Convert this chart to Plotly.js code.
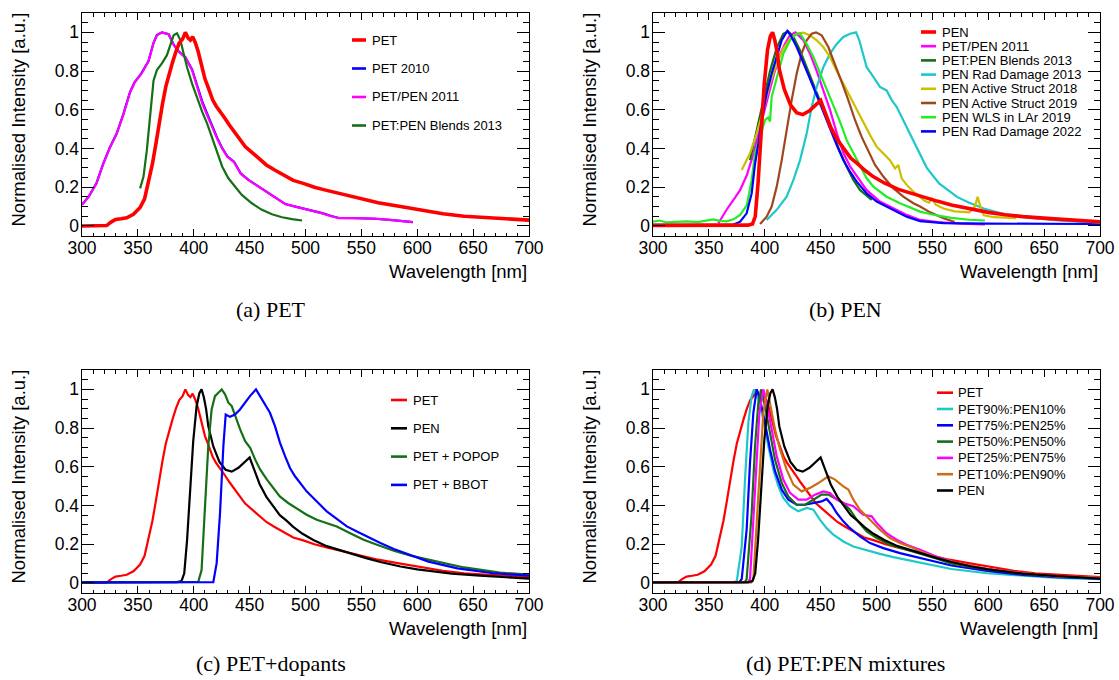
<!DOCTYPE html>
<html><head><meta charset="utf-8">
<script src="https://cdn.plot.ly/plotly-3.0.1.min.js"></script>
<style>html,body{margin:0;padding:0;background:#fff;} #chart{width:1119px;height:680px;}</style>
</head><body><div id="chart"></div>
<script>
// ---------------- DATA ----------------
const xTicks = [300, 350, 400, 450, 500, 550, 600, 650, 700];
const yTicks = [0, 0.2, 0.4, 0.6, 0.8, 1];
const yTickText = ['0', '0.2', '0.4', '0.6', '0.8', '1'];

const petWl  = [300,310,322,326,330,335,340,346,352,356,360,363,366,369,372,375,378,381,384,387,390,392.5,395,397,399,401.5,404,407,410,413,417,420,424,428,432,436,441,446,452,458,465,472,480,489,498,508,518,528,540,553,565,585,604,623,642,668,700];
const petInt = [0,0,0.002,0.02,0.033,0.037,0.042,0.06,0.095,0.14,0.24,0.32,0.42,0.53,0.63,0.72,0.79,0.845,0.9,0.945,0.965,1.0,0.97,0.96,0.978,0.945,0.9,0.83,0.76,0.715,0.65,0.62,0.59,0.555,0.52,0.49,0.45,0.41,0.38,0.35,0.315,0.29,0.265,0.235,0.22,0.2,0.185,0.172,0.155,0.138,0.12,0.1,0.08,0.063,0.05,0.04,0.03];

const pet2010Wl  = [300,306,313,319,325,331,337,343,347,353,359.5,364,367,371.5,377.5,382,386.5,392.5,398.5,403,407.5,412,416.5,421,425.5,430,436,442,449,458,467,476,482,491,503,515,523,530,545,562,578,596];
const pet2010Int = [0.11,0.152,0.222,0.322,0.407,0.477,0.578,0.692,0.742,0.787,0.852,0.946,0.986,1.0,0.99,0.937,0.902,0.872,0.808,0.728,0.645,0.58,0.515,0.455,0.402,0.36,0.332,0.272,0.238,0.204,0.169,0.135,0.113,0.1,0.084,0.066,0.051,0.041,0.04,0.037,0.03,0.02];

const petpenA2011Wl  = [300,306,313,319,325,331,337,343,347,353,359.5,364,367,371.5,377.5,382,386.5,392.5,398.5,403,407.5,412,416.5,421,425.5,430,436,442,449,458,467,476,482,491,503,515,523,530,545,562,578,596];
const petpenA2011Int = [0.108,0.151,0.22,0.32,0.405,0.475,0.575,0.69,0.74,0.785,0.85,0.945,0.985,1.0,0.99,0.935,0.9,0.87,0.805,0.72,0.635,0.572,0.51,0.45,0.4,0.357,0.33,0.27,0.237,0.203,0.168,0.134,0.112,0.1,0.083,0.065,0.05,0.04,0.04,0.038,0.03,0.02];

const blendsA2013Wl  = [352,355,358,361,364,367,371.5,376,379,382,385,388,391,394,398.5,403,407.5,412,416.5,421,425.5,431,437,443,452,461,470,479,488,497];
const blendsA2013Int = [0.194,0.254,0.39,0.58,0.75,0.805,0.84,0.882,0.933,0.985,0.995,0.96,0.89,0.82,0.735,0.658,0.59,0.529,0.452,0.375,0.306,0.246,0.203,0.16,0.117,0.083,0.06,0.045,0.035,0.028];

const penWl  = [300,330,360,385,389,391.5,394,396.5,399.5,402.5,405,407,409,411,413,417.5,423,428.5,434,440,446,450,453.5,459,465,471,477,483,489,497,507,519,531,543,555,567,585,600,615,631,656,679,700];
const penInt = [0.003,0.003,0.003,0.004,0.01,0.05,0.22,0.45,0.73,0.91,0.98,1.0,0.96,0.9,0.81,0.705,0.625,0.585,0.575,0.595,0.628,0.648,0.594,0.51,0.445,0.395,0.35,0.322,0.29,0.255,0.222,0.19,0.168,0.145,0.127,0.108,0.085,0.07,0.058,0.048,0.038,0.028,0.022];

const petpenB2011Wl  = [358.5,362,366,372,378,384,390,396,402,408,414,418,422.5,427.5,434.5,440.5,446.5,452.5,458.5,464.5,470.5,476.5,482.5,491,503,515,527,539,555,575,597];
const petpenB2011Int = [0.014,0.05,0.085,0.134,0.186,0.263,0.375,0.512,0.65,0.78,0.89,0.94,0.985,1.0,0.96,0.89,0.8,0.7,0.598,0.478,0.375,0.306,0.255,0.186,0.126,0.091,0.057,0.031,0.02,0.012,0.008];

const blendsB2013Wl  = [386.8,392.8,398.7,404.7,410.7,416.6,421,425.6,431.6,437.5,443.5,449.5,455.4,461.4,467.4,473.3,479.3,485.2,495.7];
const blendsB2013Int = [0.34,0.495,0.65,0.8,0.92,0.993,1.005,0.976,0.907,0.82,0.735,0.65,0.564,0.47,0.383,0.306,0.237,0.186,0.134];

const radDam2013Wl  = [401.7,410.7,419.6,425.6,431.6,437.5,442,446.5,452.4,458.4,464.4,470.3,476.3,481.7,484.6,488.2,491.2,497.2,503.1,509,513.6,518,524,530,539,545,556,572,583,596,615,640,660,690,700];
const radDam2013Int = [0.031,0.083,0.151,0.237,0.34,0.478,0.615,0.718,0.82,0.89,0.94,0.976,0.993,1.0,0.959,0.89,0.82,0.77,0.718,0.7,0.65,0.615,0.546,0.47,0.375,0.3,0.22,0.15,0.12,0.09,0.06,0.04,0.03,0.02,0.015];

const active2018Wl  = [379.4,386.8,392.8,398.7,404.7,410.7,416.6,422.6,428.6,434.5,440.5,446.5,452.4,458.4,464.4,470.3,476.3,482.3,488.2,494.2,500.2,506.1,512,516.6,519.5,522.5,527,533,539,543,547,549.5,553,560,570,583,588,590.5,593,596,605,625];
const active2018Int = [0.289,0.375,0.478,0.598,0.735,0.838,0.916,0.967,0.993,0.998,0.985,0.959,0.924,0.873,0.8,0.735,0.667,0.598,0.53,0.47,0.409,0.375,0.34,0.297,0.315,0.246,0.212,0.177,0.151,0.13,0.12,0.142,0.11,0.09,0.075,0.07,0.1,0.15,0.1,0.055,0.045,0.04];

const active2019Wl  = [395.8,401.7,406.2,410.7,415.2,419.6,424.1,428.6,433,437.5,442,445.9,450.9,456.9,462.9,468.8,474.8,480.8,486.7,492.7,498.7,506.1,515,524,533,539,548,560,570];
const active2019Int = [0.01,0.048,0.1,0.203,0.34,0.495,0.65,0.787,0.89,0.959,0.993,1.0,0.985,0.924,0.838,0.744,0.65,0.546,0.46,0.383,0.315,0.255,0.195,0.151,0.117,0.1,0.07,0.04,0.02];

const wlsLAr2019Wl  = [300,306,312,320,330,340,348,354,360,366,372,378,384,388.3,391.3,395.8,400.2,403,404.7,406.2,410.7,416.6,422.6,428.6,431.6,437.5,443.5,449.5,455.4,461.4,467.4,473.3,479.3,485.2,491.2,497.2,509,521,539,551,567,583,597];
const wlsLAr2019Int = [0.022,0.028,0.018,0.022,0.024,0.02,0.028,0.034,0.026,0.024,0.034,0.057,0.108,0.237,0.375,0.46,0.546,0.56,0.54,0.667,0.77,0.89,0.959,0.993,0.995,0.94,0.873,0.787,0.7,0.615,0.538,0.443,0.375,0.306,0.246,0.203,0.151,0.117,0.074,0.058,0.042,0.032,0.028];

const radDam2022Wl  = [300,340,372,378,383.8,388.3,391.3,394.3,397.2,401.7,406.2,410.7,415.2,420.2,423.2,428.6,434.5,440.5,446.5,452.4,458.4,464.4,470.3,476.3,482.3,491.2,500.2,512,527,539,560,600,650,690,700];
const radDam2022Int = [0.006,0.006,0.007,0.022,0.065,0.168,0.32,0.426,0.546,0.684,0.787,0.873,0.959,1.007,0.985,0.924,0.838,0.76,0.675,0.59,0.495,0.418,0.34,0.28,0.229,0.168,0.126,0.091,0.048,0.025,0.015,0.012,0.01,0.01,0.005];

const popopWl  = [300,350,404,407,410,413,416,419,422,425,428,431,434,437,441.5,446,450.5,455,459.5,465.5,471,477,484.5,492,501,510,519,528,540,552,564,579,595,610,642,674,700];
const popopInt = [0.003,0.003,0.005,0.067,0.36,0.706,0.896,0.965,0.983,1.0,0.974,0.931,0.914,0.862,0.793,0.732,0.698,0.637,0.585,0.534,0.491,0.447,0.413,0.387,0.352,0.326,0.309,0.292,0.257,0.223,0.197,0.166,0.14,0.12,0.08,0.053,0.043];

const bbotWl  = [300,417.5,420.5,423.5,426.5,428.6,432.4,436.9,441.4,445.9,450.3,455.7,459.3,463.8,468.2,472.7,477.2,481.7,486.1,490.6,495.1,501,507,513,519,525,531,537,546,555,567,579,595,610,636,668,700];
const bbotInt = [0.003,0.004,0.102,0.36,0.706,0.87,0.858,0.87,0.896,0.931,0.965,1.0,0.965,0.922,0.879,0.81,0.724,0.655,0.594,0.551,0.516,0.473,0.439,0.404,0.37,0.344,0.318,0.292,0.266,0.24,0.206,0.175,0.14,0.11,0.075,0.05,0.038];

const mix90Wl  = [300,372,375,379.4,382.3,385.3,388.3,390.4,394.3,398.7,403.2,407.7,412.2,416.6,422.6,430,437.5,443.5,449.5,455.4,461.4,470.3,479.3,491.2,503.1,515,527,539,551,567,599,631,662,700];
const mix90Int = [0.003,0.003,0.01,0.188,0.53,0.827,0.965,1.0,0.948,0.845,0.706,0.585,0.499,0.439,0.396,0.37,0.387,0.378,0.326,0.283,0.249,0.214,0.188,0.167,0.15,0.133,0.119,0.102,0.09,0.072,0.05,0.036,0.026,0.02];

const mix75Wl  = [300,377,379.4,383.8,386.8,389.8,392.8,395.8,400.2,404.7,409.2,415.2,421.1,428.6,436,443.5,450.9,455.4,459.9,464.4,470.3,476.3,485.2,494.2,506.1,521,539,551,567,599,631,662,700];
const mix75Int = [0.003,0.003,0.02,0.275,0.62,0.879,1.0,0.948,0.827,0.689,0.577,0.482,0.43,0.404,0.404,0.413,0.421,0.434,0.404,0.361,0.318,0.283,0.24,0.206,0.18,0.154,0.128,0.112,0.09,0.062,0.042,0.03,0.022];

const mix50Wl  = [300,382,383.8,388.3,391.3,394.3,396.7,400.2,404.7,409.2,415.2,421.1,428.6,436,443.5,450.9,456.9,464.4,470.3,476.3,482.3,491.2,500.2,512,527,539,554,567,599,631,662,700];
const mix50Int = [0.003,0.003,0.02,0.36,0.706,0.931,1.0,0.914,0.776,0.637,0.516,0.447,0.404,0.404,0.43,0.456,0.456,0.43,0.413,0.378,0.326,0.266,0.232,0.197,0.171,0.154,0.125,0.1,0.07,0.047,0.032,0.025];

const mix25Wl  = [300,385,386.8,391.3,395.2,398.7,401.7,406.2,410.7,416.6,422.6,430,437.5,445,452.4,458.4,464.4,470.3,479.3,488.2,495.7,500.2,509,518,527,539,554,570,599,631,662,700];
const mix25Int = [0.003,0.003,0.02,0.447,0.879,1.0,0.931,0.793,0.655,0.534,0.465,0.43,0.43,0.456,0.473,0.465,0.43,0.413,0.396,0.352,0.344,0.309,0.257,0.223,0.197,0.171,0.135,0.105,0.072,0.05,0.034,0.026];

const mix10Wl  = [300,388,389.8,394.3,398.7,402.3,405.3,409.2,413.7,419.6,425.6,433,440.5,448,456.9,462.9,470.3,474.8,479.3,485.2,494.2,503.1,512,521,533,539,554,570,599,631,662,700];
const mix10Int = [0.003,0.003,0.02,0.447,0.879,1.0,0.914,0.793,0.689,0.585,0.508,0.473,0.491,0.516,0.551,0.534,0.499,0.482,0.43,0.378,0.326,0.275,0.232,0.206,0.18,0.163,0.13,0.105,0.072,0.05,0.035,0.026];

// ---------------- SERIES (legend order) ----------------
const panelA = [
  {name:'PET', x:petWl, y:petInt, color:'#ff0000', w:3.6},
  {name:'PET 2010', x:pet2010Wl, y:pet2010Int, color:'#0000ff', w:2.2},
  {name:'PET/PEN 2011', x:petpenA2011Wl, y:petpenA2011Int, color:'#ff00ff', w:2.2},
  {name:'PET:PEN Blends 2013', x:blendsA2013Wl, y:blendsA2013Int, color:'#157015', w:2.2}
];
const panelB = [
  {name:'PEN', x:penWl, y:penInt, color:'#ff0000', w:3.6},
  {name:'PET/PEN 2011', x:petpenB2011Wl, y:petpenB2011Int, color:'#ff00ff', w:2.2},
  {name:'PET:PEN Blends 2013', x:blendsB2013Wl, y:blendsB2013Int, color:'#157015', w:2.2},
  {name:'PEN Rad Damage 2013', x:radDam2013Wl, y:radDam2013Int, color:'#1ec8c8', w:2.2},
  {name:'PEN Active Struct 2018', x:active2018Wl, y:active2018Int, color:'#cdbe00', w:2.2},
  {name:'PEN Active Struct 2019', x:active2019Wl, y:active2019Int, color:'#a0461e', w:2.2},
  {name:'PEN WLS in LAr 2019', x:wlsLAr2019Wl, y:wlsLAr2019Int, color:'#22ee22', w:2.2},
  {name:'PEN Rad Damage 2022', x:radDam2022Wl, y:radDam2022Int, color:'#0000ff', w:2.2}
];
const panelC = [
  {name:'PET', x:petWl, y:petInt, color:'#ff0000', w:2.2},
  {name:'PEN', x:penWl, y:penInt, color:'#000000', w:2.2},
  {name:'PET + POPOP', x:popopWl, y:popopInt, color:'#157015', w:2.2},
  {name:'PET + BBOT', x:bbotWl, y:bbotInt, color:'#0000ff', w:2.2}
];
const panelD = [
  {name:'PET', x:petWl, y:petInt, color:'#ff0000', w:2.2},
  {name:'PET90%:PEN10%', x:mix90Wl, y:mix90Int, color:'#1ec8c8', w:2.2},
  {name:'PET75%:PEN25%', x:mix75Wl, y:mix75Int, color:'#0000ff', w:2.2},
  {name:'PET50%:PEN50%', x:mix50Wl, y:mix50Int, color:'#157015', w:2.2},
  {name:'PET25%:PEN75%', x:mix25Wl, y:mix25Int, color:'#ff00ff', w:2.2},
  {name:'PET10%:PEN90%', x:mix10Wl, y:mix10Int, color:'#cc6e14', w:2.2},
  {name:'PEN', x:penWl, y:penInt, color:'#000000', w:2.2}
];

// ---------------- LAYOUT HELPERS ----------------
const W = 1119, H = 680;
const px = v => v / W;
const py = v => 1 - v / H;
const FONT = 'Liberation Sans, Arial, sans-serif';

const panels = [
  {series: panelA, xa:'x',  ya:'y',  frame:[82, 529, 13, 236],  topFirst:true,
   leg:{x0:352, x1:366, tx:370, y0:40, dy:28.5}, caption:'(a) PET', capX:271, capY:310},
  {series: panelB, xa:'x2', ya:'y2', frame:[653, 1100, 13, 236], topFirst:true,
   leg:{x0:921, x1:936, tx:940, y0:32, dy:14.2}, caption:'(b) PEN', capX:846, capY:310},
  {series: panelC, xa:'x3', ya:'y3', frame:[82, 529, 370, 593], topFirst:false,
   leg:{x0:391, x1:407, tx:411, y0:400, dy:28.3}, caption:'(c) PET+dopants', capX:271, capY:663},
  {series: panelD, xa:'x4', ya:'y4', frame:[653, 1100, 370, 593], topFirst:false,
   leg:{x0:937, x1:953, tx:956, y0:392.7, dy:16.3}, caption:'(d) PET:PEN mixtures', capX:846, capY:663}
];

const traces = [];
const shapes = [];
const annotations = [];
const layout = {
  width: W, height: H,
  margin: {l:0, r:0, t:0, b:0, pad:0},
  paper_bgcolor: '#ffffff', plot_bgcolor: '#ffffff',
  showlegend: false,
  font: {family: FONT, size: 18, color: '#000'},
  shapes: shapes, annotations: annotations
};

function xAxis(f, anchor) {
  return {
    domain: [px(f[0]), px(f[1])], anchor: anchor,
    range: [300, 700], tickmode: 'array', tickvals: xTicks,
    ticks: 'inside', ticklen: 7, tickwidth: 1, tickcolor: '#000',
    showline: true, linecolor: '#000', linewidth: 1.4, mirror: 'allticks',
    showgrid: false, zeroline: false, ticklabelstandoff: -4,
    minor: {dtick: 10, tick0: 300, ticks: 'inside', ticklen: 3.5, tickwidth: 1, tickcolor: '#000', showgrid: false},
    tickfont: {family: FONT, size: 17.5, color: '#000'}, fixedrange: true
  };
}
function yAxis(f, anchor) {
  return {
    domain: [py(f[3]), py(f[2])], anchor: anchor,
    range: [-0.052, 1.1], tickmode: 'array', tickvals: yTicks, ticktext: yTickText,
    ticks: 'inside', ticklen: 12, tickwidth: 1, tickcolor: '#000',
    showline: true, linecolor: '#000', linewidth: 1.4, mirror: 'allticks',
    showgrid: false, zeroline: false, ticklabelstandoff: -2,
    minor: {dtick: 0.05, tick0: 0, ticks: 'inside', ticklen: 6, tickwidth: 1, tickcolor: '#000', showgrid: false},
    tickfont: {family: FONT, size: 17.5, color: '#000'}, fixedrange: true
  };
}

panels.forEach((p, i) => {
  const suffix = i === 0 ? '' : String(i + 1);
  layout['xaxis' + suffix] = xAxis(p.frame, p.ya);
  layout['yaxis' + suffix] = yAxis(p.frame, p.xa);

  // draw order: first legend entry drawn on top for panels a and b
  const order = p.series.map((s, k) => k);
  if (p.topFirst) { order.push(order.shift()); }
  order.forEach(k => {
    const s = p.series[k];
    traces.push({
      type: 'scatter', mode: 'lines', name: s.name,
      x: s.x, y: s.y, xaxis: p.xa, yaxis: p.ya,
      line: {color: s.color, width: s.w},
      hoverinfo: 'skip', showlegend: false
    });
  });

  // custom legend (line sample + label)
  p.series.forEach((s, k) => {
    const yy = p.leg.y0 + k * p.leg.dy;
    shapes.push({type:'line', xref:'paper', yref:'paper',
      x0: px(p.leg.x0), x1: px(p.leg.x1), y0: py(yy), y1: py(yy),
      line: {color: s.color, width: Math.max(s.w, 2.6)}});
    annotations.push({xref:'paper', yref:'paper', x: px(p.leg.tx), y: py(yy),
      xanchor:'left', yanchor:'middle', showarrow:false, text: s.name,
      font: {family: FONT, size: 13, color:'#000'}});
  });

  const f = p.frame;
  // axis titles
  annotations.push({xref:'paper', yref:'paper', x: px(f[1]), y: py(f[3] + 35),
    xanchor:'right', yanchor:'middle', showarrow:false, text:'Wavelength [nm]',
    font:{family: FONT, size: 18.5, color:'#000'}});
  annotations.push({xref:'paper', yref:'paper', x: px(f[0] - 64), y: py(f[2] + 106.5),
    xanchor:'center', yanchor:'middle', showarrow:false, textangle:-90,
    text:'Normalised Intensity [a.u.]',
    font:{family: FONT, size: 18.5, color:'#000'}});
  // caption
  annotations.push({xref:'paper', yref:'paper', x: px(p.capX), y: py(p.capY),
    xanchor:'center', yanchor:'middle', showarrow:false, text: p.caption,
    font:{family:'Liberation Serif, Times New Roman, serif', size: 22, color:'#000'}});
});

Plotly.newPlot('chart', traces, layout, {staticPlot: true, displayModeBar: false});
</script></body></html>
